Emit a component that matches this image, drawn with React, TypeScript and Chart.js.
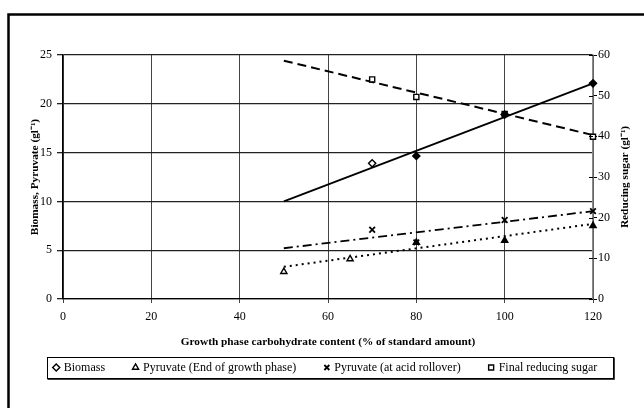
import React, { useEffect, useRef } from "react";
import { Chart, registerables } from "chart.js";

Chart.register(...registerables);

// ---- data ----
const biomassX = [70, 80, 100, 120];
const biomassY = [13.9, 14.65, 18.9, 22.1];

const pyrEndX = [50, 65, 80, 100, 120];
const pyrEndY = [2.8, 4.1, 5.8, 6.0, 7.5];

const pyrAcidX = [70, 80, 100, 120];
const pyrAcidY = [7.1, 5.8, 8.1, 9.0];

const sugarX = [70, 80, 100, 120];
const sugarY = [54.0, 49.7, 45.5, 39.9];

// trend lines (end points)
const trendX = [50, 120];
const biomassTrend = [10.0, 22.1];
const pyrEndTrend = [3.3, 7.7];
const pyrAcidTrend = [5.2, 9.0];
const sugarTrend = [58.6, 40.3];

const legendLabels = [
  "Biomass",
  "Pyruvate (End of growth phase)",
  "Pyruvate (at acid rollover)",
  "Final reducing sugar",
];

const xTitle = "Growth phase carbohydrate content (% of standard amount)";
const yTitle = "Biomass, Pyruvate (gl\u207B\u00B9)";
const y2Title = "Reducing sugar (gl\u207B\u00B9)";

const FONT = "'Liberation Serif', 'Times New Roman', serif";

const pts = (xs: number[], ys: number[]) => xs.map((x, i) => ({ x, y: ys[i] }));

const framePlugin = {
  id: "frameAndLegendBox",
  afterDraw(chart: any) {
    const ctx = chart.ctx;
    ctx.save();
    ctx.strokeStyle = "#000";
    ctx.lineWidth = 2.5;
    ctx.beginPath();
    ctx.moveTo(8.5, chart.height);
    ctx.lineTo(8.5, 14.5);
    ctx.lineTo(chart.width, 14.5);
    ctx.stroke();

    // right axis: cross ticks through the axis line
    const s2 = chart.scales.y2;
    if (s2) {
      ctx.lineWidth = 1;
      ctx.beginPath();
      s2.ticks.forEach((t: any) => {
        const y = Math.round(s2.getPixelForValue(t.value)) + 0.5;
        ctx.moveTo(s2.left - 4, y);
        ctx.lineTo(s2.left, y);
      });
      ctx.stroke();
      // right axis title, reading bottom to top
      ctx.save();
      ctx.fillStyle = "#000";
      ctx.font = `bold 11.3px ${FONT}`;
      ctx.textAlign = "center";
      ctx.textBaseline = "middle";
      ctx.translate(s2.right - 19, (chart.chartArea.top + chart.chartArea.bottom) / 2);
      ctx.rotate(-Math.PI / 2);
      ctx.fillText(y2Title, 0, 0);
      ctx.restore();
    }

    const lg = chart.legend;
    const hb = lg && lg.legendHitBoxes;
    if (hb && hb.length) {
      const first = hb[0];
      const last = hb[hb.length - 1];
      const l = Math.round(first.left - 8) + 0.5;
      const r = Math.round(last.left + last.width + 16) + 0.5;
      const t = Math.round(first.top + first.height / 2 - 10.5) + 0.5;
      const b = t + 21;
      ctx.lineWidth = 1;
      ctx.strokeRect(l, t, r - l, b - t);
      ctx.lineWidth = 1.5;
      ctx.beginPath();
      ctx.moveTo(r + 0.5, t);
      ctx.lineTo(r + 0.5, b + 0.5);
      ctx.lineTo(l, b + 0.5);
      ctx.stroke();
    }
    ctx.restore();
  },
};

export default function App() {
  const ref = useRef<HTMLCanvasElement | null>(null);

  useEffect(() => {
    if (!ref.current) return;
    const markerCommon = {
      showLine: false,
      pointBorderColor: "#000",
      pointBorderWidth: 1.4,
      borderColor: "#000",
      clip: false as any,
    };
    const trendCommon = {
      showLine: true,
      pointRadius: 0,
      borderColor: "#000",
      backgroundColor: "#000",
      clip: false as any,
    };
    const chart = new Chart(ref.current, {
      type: "scatter",
      data: {
        datasets: [
          {
            ...markerCommon,
            label: legendLabels[0],
            data: pts(biomassX, biomassY),
            yAxisID: "y",
            pointStyle: "rectRot",
            pointRadius: 3.6,
            pointBackgroundColor: ["#fff", "#000", "#000", "#000"],
            backgroundColor: "#fff",
          },
          {
            ...markerCommon,
            label: legendLabels[1],
            data: pts(pyrEndX, pyrEndY),
            yAxisID: "y",
            pointStyle: "triangle",
            pointRadius: 3.6,
            pointBackgroundColor: ["#fff", "#fff", "#000", "#000", "#000"],
            backgroundColor: "#fff",
          },
          {
            ...markerCommon,
            label: legendLabels[2],
            data: pts(pyrAcidX, pyrAcidY),
            yAxisID: "y",
            pointStyle: "crossRot",
            pointRadius: 4,
            pointBorderWidth: 1.8,
            pointBackgroundColor: "#000",
            backgroundColor: "#000",
          },
          {
            ...markerCommon,
            label: legendLabels[3],
            data: pts(sugarX, sugarY),
            yAxisID: "y2",
            pointStyle: "rect",
            pointRadius: 3.6,
            pointBackgroundColor: "#fff",
            backgroundColor: "#fff",
          },
          {
            ...trendCommon,
            label: "trend-biomass",
            data: pts(trendX, biomassTrend),
            yAxisID: "y",
            borderWidth: 1.8,
          },
          {
            ...trendCommon,
            label: "trend-pyr-end",
            data: pts(trendX, pyrEndTrend),
            yAxisID: "y",
            borderWidth: 2,
            borderDash: [2, 4],
          },
          {
            ...trendCommon,
            label: "trend-pyr-acid",
            data: pts(trendX, pyrAcidTrend),
            yAxisID: "y",
            borderWidth: 1.8,
            borderDash: [9, 4, 2, 4],
          },
          {
            ...trendCommon,
            label: "trend-sugar",
            data: pts(trendX, sugarTrend),
            yAxisID: "y2",
            borderWidth: 2,
            borderDash: [9, 5],
          },
        ],
      },
      options: {
        animation: false,
        responsive: false,
        maintainAspectRatio: false,
        layout: { padding: { top: 55, left: 8, right: 0, bottom: 24.5 } },
        plugins: {
          tooltip: { enabled: false },
          legend: {
            position: "bottom",
            labels: {
              usePointStyle: true,
              boxHeight: 5,
              boxWidth: 3,
              padding: 29,
              color: "#000",
              font: { family: FONT, size: 12 },
              filter: (item: any) => item.datasetIndex < 4,
            },
          },
        },
        scales: {
          x: {
            type: "linear",
            min: 0,
            max: 120,
            ticks: { stepSize: 20, color: "#000", font: { family: FONT, size: 12 }, padding: 7, maxRotation: 0 },
            grid: { color: "#444", lineWidth: 1, tickLength: 4 },
            border: { color: "#000", width: 1.2 },
            title: {
              display: true,
              text: xTitle,
              color: "#000",
              font: { family: FONT, size: 11.3, weight: "bold" },
              padding: { top: 0, bottom: -16.3 },
            },
            afterFit: (s: any) => {
              s.height = 33.5;
            },
          },
          y: {
            type: "linear",
            position: "left",
            min: 0,
            max: 25,
            ticks: { stepSize: 5, color: "#000", font: { family: FONT, size: 12 }, padding: 5 },
            grid: { color: "#222", lineWidth: 1.3, tickLength: 6 },
            border: { color: "#000", width: 1.3 },
            title: {
              display: true,
              text: yTitle,
              color: "#000",
              font: { family: FONT, size: 11.3, weight: "bold" },
              padding: { top: 20.2, bottom: 0 },
            },
            afterFit: (s: any) => {
              s.width = 55;
            },
          },
          y2: {
            type: "linear",
            position: "right",
            min: 0,
            max: 60,
            ticks: { stepSize: 10, color: "#000", font: { family: FONT, size: 12 }, padding: 1 },
            grid: { drawOnChartArea: false, color: "#000", tickLength: 4 },
            border: { color: "#888", width: 1.5 },
            title: { display: false },
            afterFit: (s: any) => {
              s.width = 51;
            },
          },
        },
      },
      plugins: [framePlugin],
    } as any);
    return () => chart.destroy();
  }, []);

  return (
    <div style={{ position: "fixed", left: 0, top: 0, width: 644, height: 408, background: "#fff" }}>
      <canvas ref={ref} width={644} height={408} style={{ display: "block" }} />
    </div>
  );
}
